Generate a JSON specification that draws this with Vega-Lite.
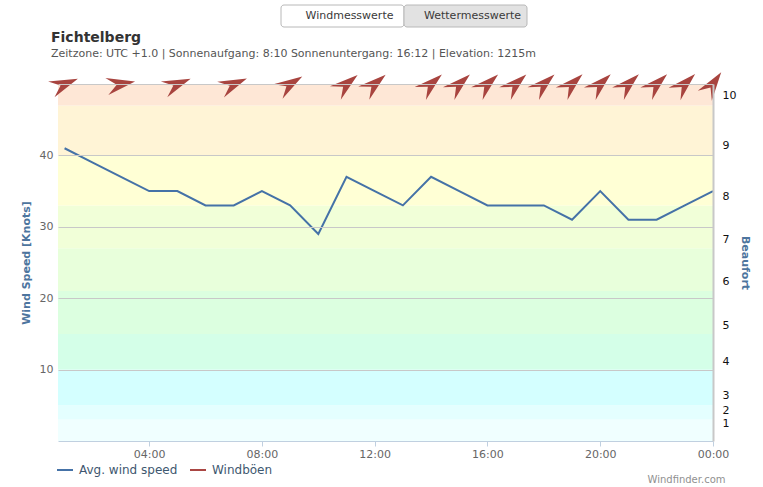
{
  "$schema": "https://vega.github.io/schema/vega-lite/v6.json",
  "width": 655,
  "height": 357,
  "autosize": {"type": "none"},
  "padding": {"left": 58, "top": 84, "right": 50, "bottom": 46},
  "background": "white",
  "config": {"view": {"stroke": null}, "font": "DejaVu Sans"},
  "title": {
    "text": "Fichtelberg",
    "subtitle": "Zeitzone: UTC +1.0 | Sonnenaufgang: 8:10 Sonnenuntergang: 16:12 | Elevation: 1215m",
    "anchor": "start",
    "frame": "group",
    "dx": -7,
    "offset": -54,
    "font": "DejaVu Sans",
    "fontSize": 14,
    "fontWeight": "bold",
    "color": "#333333",
    "subtitleFont": "DejaVu Sans",
    "subtitleFontSize": 11,
    "subtitleColor": "#555555",
    "subtitlePadding": 3
  },
  "layer": [
    {
      "data": {
        "values": [
          {"lo": 0, "hi": 3, "band": "b1"},
          {"lo": 3, "hi": 5, "band": "b2"},
          {"lo": 5, "hi": 10, "band": "b3"},
          {"lo": 10, "hi": 15, "band": "b4"},
          {"lo": 15, "hi": 21, "band": "b5"},
          {"lo": 21, "hi": 27, "band": "b6"},
          {"lo": 27, "hi": 33, "band": "b7"},
          {"lo": 33, "hi": 40, "band": "b8"},
          {"lo": 40, "hi": 47, "band": "b9"},
          {"lo": 47, "hi": 50, "band": "b10"}
        ]
      },
      "mark": {"type": "rect", "strokeWidth": 0},
      "encoding": {
        "y": {
          "field": "lo",
          "type": "quantitative",
          "scale": {"domain": [0, 50], "nice": false},
          "axis": {
            "orient": "right",
            "values": [2.4, 4.3, 6.4, 11.2, 16.2, 22.3, 28.2, 34.2, 41.4, 48.4],
            "labelExpr": "datum.value > 45 ? '10' : datum.value > 40 ? '9' : datum.value > 30 ? '8' : datum.value > 25 ? '7' : datum.value > 20 ? '6' : datum.value > 14 ? '5' : datum.value > 10 ? '4' : datum.value > 5 ? '3' : datum.value > 3 ? '2' : '1'",
            "grid": false,
            "ticks": false,
            "domain": true,
            "domainColor": "#C8C8C8",
            "domainWidth": 2,
            "labelColor": "#111111",
            "labelFontSize": 11,
            "labelPadding": 9,
            "title": "Beaufort",
            "titleColor": "#4D759E",
            "titleFontSize": 11,
            "titleFontWeight": "bold",
            "titleAngle": 90,
            "titlePadding": 4,
            "zindex": 1
          }
        },
        "y2": {"field": "hi"},
        "fill": {
          "field": "band",
          "type": "nominal",
          "scale": {
            "domain": ["b1", "b2", "b3", "b4", "b5", "b6", "b7", "b8", "b9", "b10"],
            "range": ["#F0FFFF", "#E4FFFF", "#D4FFFF", "#D4FFE8", "#DCFFE0", "#E8FFDB", "#F1FFD8", "#FFFFD5", "#FFF4D6", "#FEE7D6"]
          },
          "legend": null
        }
      }
    },
    {
      "layer": [
        {
          "data": {
            "values": [
              {"t": "2024-01-01T01:00:00", "speed": 41, "series": "Avg. wind speed"},
              {"t": "2024-01-01T02:00:00", "speed": 39, "series": "Avg. wind speed"},
              {"t": "2024-01-01T03:00:00", "speed": 37, "series": "Avg. wind speed"},
              {"t": "2024-01-01T04:00:00", "speed": 35, "series": "Avg. wind speed"},
              {"t": "2024-01-01T05:00:00", "speed": 35, "series": "Avg. wind speed"},
              {"t": "2024-01-01T06:00:00", "speed": 33, "series": "Avg. wind speed"},
              {"t": "2024-01-01T07:00:00", "speed": 33, "series": "Avg. wind speed"},
              {"t": "2024-01-01T08:00:00", "speed": 35, "series": "Avg. wind speed"},
              {"t": "2024-01-01T09:00:00", "speed": 33, "series": "Avg. wind speed"},
              {"t": "2024-01-01T10:00:00", "speed": 29, "series": "Avg. wind speed"},
              {"t": "2024-01-01T11:00:00", "speed": 37, "series": "Avg. wind speed"},
              {"t": "2024-01-01T12:00:00", "speed": 35, "series": "Avg. wind speed"},
              {"t": "2024-01-01T13:00:00", "speed": 33, "series": "Avg. wind speed"},
              {"t": "2024-01-01T14:00:00", "speed": 37, "series": "Avg. wind speed"},
              {"t": "2024-01-01T15:00:00", "speed": 35, "series": "Avg. wind speed"},
              {"t": "2024-01-01T16:00:00", "speed": 33, "series": "Avg. wind speed"},
              {"t": "2024-01-01T17:00:00", "speed": 33, "series": "Avg. wind speed"},
              {"t": "2024-01-01T18:00:00", "speed": 33, "series": "Avg. wind speed"},
              {"t": "2024-01-01T19:00:00", "speed": 31, "series": "Avg. wind speed"},
              {"t": "2024-01-01T20:00:00", "speed": 35, "series": "Avg. wind speed"},
              {"t": "2024-01-01T21:00:00", "speed": 31, "series": "Avg. wind speed"},
              {"t": "2024-01-01T22:00:00", "speed": 31, "series": "Avg. wind speed"},
              {"t": "2024-01-01T23:00:00", "speed": 33, "series": "Avg. wind speed"},
              {"t": "2024-01-02T00:00:00", "speed": 35, "series": "Avg. wind speed"}
            ]
          },
          "mark": {"type": "line", "strokeWidth": 2},
          "encoding": {
            "x": {
              "field": "t",
              "type": "temporal",
              "scale": {
                "domain": [
                  {"year": 2024, "month": 1, "date": 1, "hours": 0, "minutes": 46},
                  {"year": 2024, "month": 1, "date": 2, "hours": 0, "minutes": 0}
                ]
              },
              "axis": {
                "values": [
                  {"year": 2024, "month": 1, "date": 1, "hours": 4},
                  {"year": 2024, "month": 1, "date": 1, "hours": 8},
                  {"year": 2024, "month": 1, "date": 1, "hours": 12},
                  {"year": 2024, "month": 1, "date": 1, "hours": 16},
                  {"year": 2024, "month": 1, "date": 1, "hours": 20},
                  {"year": 2024, "month": 1, "date": 2, "hours": 0}
                ],
                "format": "%H:%M",
                "grid": false,
                "domainColor": "#C0D0E0",
                "tickColor": "#C0D0E0",
                "tickSize": 5,
                "labelColor": "#666666",
                "labelFontSize": 11,
                "labelPadding": 2,
                "labelFlush": false,
                "title": "Windfinder.com",
                "titleX": 667,
                "titleY": 41,
                "titleAlign": "right",
                "titleBaseline": "alphabetic",
                "titleFontSize": 10,
                "titleFontWeight": "normal",
                "titleColor": "#909090"
              }
            },
            "y": {
              "field": "speed",
              "type": "quantitative",
              "scale": {"domain": [0, 50], "nice": false},
              "axis": {
                "orient": "left",
                "values": [10, 20, 30, 40, 50],
                "labelExpr": "datum.value == 50 ? '' : datum.label",
                "grid": true,
                "gridColor": "#C8C8C8",
                "ticks": false,
                "domain": false,
                "labelColor": "#666666",
                "labelFontSize": 11,
                "labelPadding": 5,
                "title": "Wind Speed [Knots]",
                "titleColor": "#4D759E",
                "titleFontSize": 11,
                "titleFontWeight": "bold",
                "titlePadding": 8,
                "zindex": 1
              }
            },
            "color": {
              "field": "series",
              "type": "nominal",
              "scale": {"domain": ["Avg. wind speed", "Windböen"], "range": ["#4572A7", "#AA4643"]},
              "legend": {
                "orient": "none",
                "legendX": -2,
                "legendY": 377,
                "direction": "horizontal",
                "title": null,
                "symbolType": "stroke",
                "symbolSize": 256,
                "symbolStrokeWidth": 2,
                "labelFontSize": 12,
                "labelColor": "#3E576F",
                "labelOffset": 5,
                "columnPadding": 8
              }
            }
          }
        },
        {
          "data": {
            "values": [
              {"t": "2024-01-01T01:00:00", "dir": 248},
              {"t": "2024-01-01T03:00:00", "dir": 260},
              {"t": "2024-01-01T05:00:00", "dir": 248},
              {"t": "2024-01-01T07:00:00", "dir": 247},
              {"t": "2024-01-01T09:00:00", "dir": 238},
              {"t": "2024-01-01T11:00:00", "dir": 231},
              {"t": "2024-01-01T12:00:00", "dir": 230},
              {"t": "2024-01-01T14:00:00", "dir": 229},
              {"t": "2024-01-01T15:00:00", "dir": 228},
              {"t": "2024-01-01T16:00:00", "dir": 228},
              {"t": "2024-01-01T17:00:00", "dir": 228},
              {"t": "2024-01-01T18:00:00", "dir": 228},
              {"t": "2024-01-01T19:00:00", "dir": 227},
              {"t": "2024-01-01T20:00:00", "dir": 227},
              {"t": "2024-01-01T21:00:00", "dir": 227},
              {"t": "2024-01-01T22:00:00", "dir": 227},
              {"t": "2024-01-01T23:00:00", "dir": 226},
              {"t": "2024-01-02T00:00:00", "dir": 215}
            ]
          },
          "mark": {
            "type": "point",
            "shape": "M1,0 L-1,-0.6 L-0.3,0 L-1,0.6 Z",
            "filled": true,
            "size": 820,
            "color": "#A8443F",
            "opacity": 1,
            "strokeWidth": 0
          },
          "encoding": {
            "x": {"field": "t", "type": "temporal"},
            "y": {"datum": 50},
            "angle": {
              "field": "dir",
              "type": "quantitative",
              "scale": {"domain": [0, 360], "range": [-270, 90]}
            }
          }
        }
      ]
    },
    {
      "data": {
        "values": [
          {"button": "Windmesswerte", "state": "active"},
          {"button": "Wettermesswerte", "state": "inactive"}
        ]
      },
      "layer": [
        {
          "mark": {"type": "rect", "cornerRadius": 3, "stroke": "#B8B8B8", "strokeWidth": 1},
          "encoding": {
            "x": {
              "field": "button",
              "type": "nominal",
              "sort": null,
              "scale": {"range": [223, 469], "paddingInner": 0, "paddingOuter": 0},
              "axis": null
            },
            "y": {"datum": 1, "scale": {"domain": [0, 1], "range": [-57, -79]}, "axis": null},
            "y2": {"datum": 0},
            "fill": {
              "field": "state",
              "type": "nominal",
              "scale": {"domain": ["active", "inactive"], "range": ["#FFFFFF", "#E2E2E2"]},
              "legend": null
            }
          }
        },
        {
          "mark": {"type": "text", "fontSize": 11, "color": "#3A3A3A", "baseline": "middle", "dx": 7, "font": "DejaVu Sans"},
          "encoding": {
            "x": {"field": "button", "type": "nominal", "sort": null},
            "y": {"datum": 0.5},
            "text": {"field": "button"}
          }
        }
      ]
    }
  ],
  "resolve": {"scale": {"y": "independent", "x": "independent", "fill": "independent"}}
}
